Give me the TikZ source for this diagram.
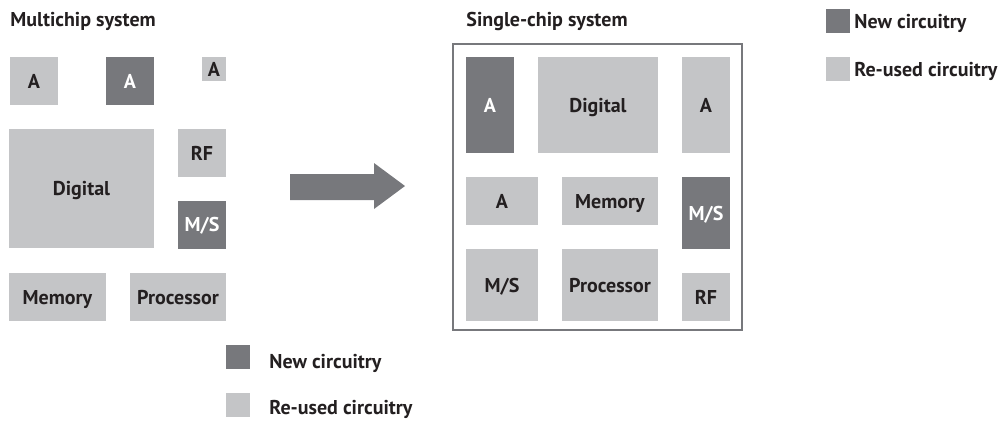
\documentclass[tikz,border=0pt]{standalone}
\usepackage{fontspec}
\setmainfont{PT Sans}
\definecolor{newgray}{RGB}{119,120,124}
\definecolor{oldgray}{RGB}{196,197,199}
\definecolor{inkgray}{RGB}{35,31,32}
\begin{document}
\begin{tikzpicture} [x=0.5pt, y=-0.5pt]
    \tikzset{every node/.style={%
      font=\fontsize{10pt}{12pt}\selectfont\bfseries,%
      text=inkgray}%
    };
\tikzset{chip/.style={rectangle, inner sep=0pt, outer sep=0pt, text depth=0pt}};
\tikzset{newchip/.style={chip, fill=newgray, text=white}};
\tikzset{oldchip/.style={chip, fill=oldgray}};
\tikzset{label/.style={anchor=base west, inner sep=0pt}};

\useasboundingbox (0,0) rectangle (1000,420);

%multichip system
\node[label] (mcTitle) at (10,26) {Multichip system};
\node[oldchip, minimum width=24pt, minimum height=24pt] (mcA1) at (34,81) {A};
\node[newchip, minimum width=24pt, minimum height=24pt] (mcA2) at (130,81) {A};
\node[oldchip, minimum width=12pt, minimum height=12pt] (mcA3) at (214,69) {A};
\node[oldchip, minimum width=72.5pt, minimum height=59.5pt] (mcDigital) at (81.5,188.5) {Digital};
\node[oldchip, minimum width=24pt, minimum height=24pt] (mcRF) at (202,153) {RF};
\node[newchip, minimum width=24pt, minimum height=24pt] (mcMS) at (202,224.5) {M/S};
\node[oldchip, minimum width=48.5pt, minimum height=24pt] (mcMemory) at (57.5,297) {Memory};
\node[oldchip, minimum width=48pt, minimum height=24pt] (mcProcessor) at (178,297) {Processor};

%big arrow
\fill[newgray] (290,174) -- (374,174) -- (374,163) -- (405,186)
  -- (374,209) -- (374,200) -- (290,200) -- cycle;

%single-chip system
\node[label] (scTitle) at (466,26) {Single-chip system};
\draw[newgray, line width=1pt] (453,44) rectangle (742,330);
\node[newchip, minimum width=24pt, minimum height=48pt] (scA1) at (490,105) {A};
\node[oldchip, minimum width=60pt, minimum height=48pt] (scDigital) at (598,105) {Digital};
\node[oldchip, minimum width=24pt, minimum height=48pt] (scA2) at (706,105) {A};
\node[oldchip, minimum width=36pt, minimum height=24pt] (scA3) at (502,201) {A};
\node[oldchip, minimum width=48pt, minimum height=24pt] (scMemory) at (610,201) {Memory};
\node[newchip, minimum width=24pt, minimum height=36pt] (scMS1) at (706,213) {M/S};
\node[oldchip, minimum width=36pt, minimum height=36pt] (scMS2) at (502,285) {M/S};
\node[oldchip, minimum width=48pt, minimum height=36pt] (scProcessor) at (610,285) {Processor};
\node[oldchip, minimum width=24pt, minimum height=24pt] (scRF) at (706,297) {RF};

%legend below
\node[newchip, minimum width=12pt, minimum height=12pt] (keyNewA) at (238,357) {};
\node[label] (keyNewTextA) at (269,368) {New circuitry};
\node[oldchip, minimum width=12pt, minimum height=12pt] (keyOldA) at (238,405) {};
\node[label] (keyOldTextA) at (269,414) {Re-used circuitry};

%legend top right
\node[newchip, minimum width=12pt, minimum height=12pt] (keyNewB) at (838,21) {};
\node[label] (keyNewTextB) at (854,28) {New circuitry};
\node[oldchip, minimum width=12pt, minimum height=12pt] (keyOldB) at (838,69) {};
\node[label] (keyOldTextB) at (854,76) {Re-used circuitry};

\end{tikzpicture}
\end{document}
